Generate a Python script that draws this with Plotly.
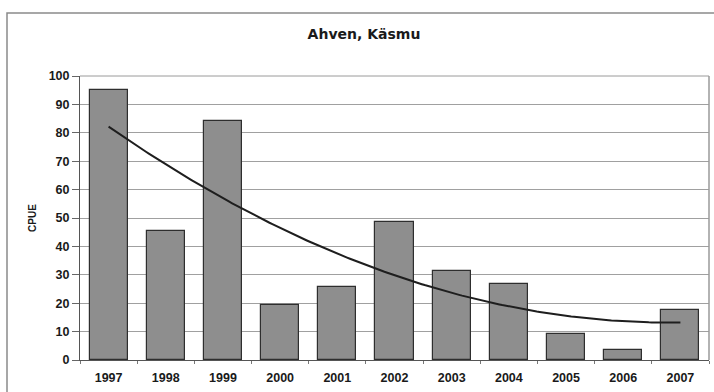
import numpy as np
import plotly.graph_objects as go

# Perch (Ahven) catch per unit effort at Käsmu, 1997-2007
years = [1997, 1998, 1999, 2000, 2001, 2002, 2003, 2004, 2005, 2006, 2007]
cpue = [95, 45.5, 84, 19.5, 25.7, 48.6, 31.3, 26.8, 9.2, 3.5, 17.6]
y_ticks = [0, 10, 20, 30, 40, 50, 60, 70, 80, 90, 100]

# Second-order polynomial trend through the yearly values
idx = np.arange(len(years))
coef = np.polyfit(idx, cpue, 2)
t = np.linspace(0, len(years) - 1, 200)
trend_x = years[0] + t
trend_y = np.polyval(coef, t)

W, H = 714, 392
L, R, T, B = 80, 5, 76, 32
pw, ph = W - L - R, H - T - B

font = dict(family="Liberation Sans, Arial, sans-serif", color="#1a1a1a")

fig = go.Figure()
fig.add_trace(go.Bar(
    x=years, y=cpue, width=0.667,
    marker=dict(color="#8e8e8e", line=dict(color="#2e2e2e", width=1.2)),
    showlegend=False, hoverinfo="x+y",
))
fig.add_trace(go.Scatter(
    x=trend_x, y=trend_y, mode="lines",
    line=dict(color="#1e1e1e", width=2), showlegend=False, hoverinfo="skip",
))

# outer chart frame (top and left edges)
fx0, fx1 = (7 - L) / pw, (W + 10 - L) / pw
fy0, fy1 = (T + ph - (H + 10)) / ph, (T + ph - 13) / ph
fig.add_shape(type="rect", xref="paper", yref="paper",
              x0=fx0, x1=fx1, y0=fy0, y1=fy1,
              line=dict(color="#8a8a8a", width=1.5), layer="below")

fig.update_layout(
    width=W, height=H,
    margin=dict(l=L, r=R, t=T, b=B),
    paper_bgcolor="white", plot_bgcolor="white",
    bargap=0,
    title=dict(text="<b>Ahven, Käsmu</b>", x=364 / W, xanchor="center",
               y=1 - 34 / H, yanchor="middle", yref="container",
               font=dict(size=14, family="DejaVu Sans, sans-serif", color="#1a1a1a")),
    xaxis=dict(
        range=[1996.5, 2007.5], tickvals=years,
        ticktext=[f"<b>{y}</b>" for y in years],
        ticks="", showgrid=False, zeroline=False,
        showline=True, linecolor="#555555", linewidth=1,
        tickfont=dict(size=12.5, **font),
        ticklabelstandoff=6,
        minor=dict(tickvals=[y + 0.5 for y in [1996] + years],
                   ticks="outside", ticklen=3, tickcolor="#777777", showgrid=False),
        mirror=False,
    ),
    yaxis=dict(
        range=[0, 100], tickvals=y_ticks,
        ticktext=[f"<b>{v}</b>" for v in y_ticks],
        ticks="outside", ticklen=7, tickcolor="#666666",
        showgrid=True, gridcolor="#a0a0a0", gridwidth=1,
        zeroline=False, showline=True, linecolor="#555555", linewidth=1,
        tickfont=dict(size=12.5, **font),
        title=dict(text="<b>CPUE</b>", font=dict(size=10, **font), standoff=10),
    ),
)
# right and top edges of plot area
fig.add_shape(type="line", xref="paper", yref="paper", x0=1, x1=1, y0=0, y1=1,
              line=dict(color="#9a9a9a", width=1.5))
fig.add_shape(type="line", xref="paper", yref="paper", x0=0, x1=1, y0=1, y1=1,
              line=dict(color="#9a9a9a", width=1))

fig.write_html("out.html")
